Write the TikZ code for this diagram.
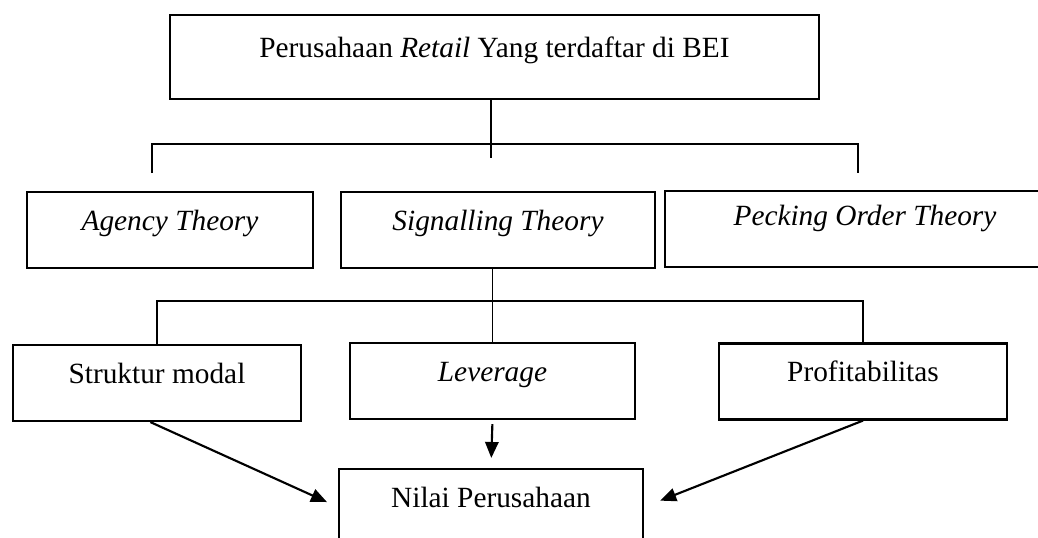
\documentclass[tikz,border=0pt]{standalone}
\usepackage{fontspec}
\setmainfont{Liberation Serif}
\usetikzlibrary{arrows.meta}

\begin{document}
\begin{tikzpicture}[x=0.75pt, y=-0.75pt,
		kotak/.style={shape=rectangle, draw=black, line width=1.6pt, inner sep=0pt, minimum height=57pt, text height=16pt, text depth=16pt, font=\fontsize{22}{26}\selectfont},
		garis/.style={line width=0.8pt},
		panah/.style={-{Triangle[length=12pt,width=10pt]}, line width=1.6pt}]
			\clip (0,0) rectangle (1038,537);
			
			\node[kotak, minimum width=486.75pt, minimum height=63pt] (retail) at (494.5,57) {Perusahaan \textit{Retail} Yang terdaftar di BEI};
			\node[kotak, minimum width=214.5pt] (agency) at (170,230) {\textit{Agency Theory}};
			\node[kotak, minimum width=235.5pt] (signalling) at (498,230) {\textit{Signalling Theory}};
			\node[kotak, minimum width=300pt, text depth=22pt] (pecking) at (865,229) {\textit{Pecking Order Theory}};
			\node[kotak, minimum width=216pt] (struktur) at (157,383) {Struktur modal};
			\node[kotak, minimum width=213.75pt] (leverage) at (492.5,381) {\textit{Leverage}};
			\node[kotak, minimum width=216pt] (profit) at (863,381.5) {Profitabilitas};
			\node[kotak, minimum width=228pt] (nilai) at (491,507) {Nilai Perusahaan};
			
			\coordinate (cabang1) at (491,158);
			\coordinate (kiri1) at (152,144);
			\coordinate (kanan1) at (858,144);
			\coordinate (ujungkiri1) at (152,173);
			\coordinate (ujungkanan1) at (858,173);
			\coordinate (kiri2) at (157,301);
			\coordinate (kanan2) at (863,301);
			
			\draw[garis] (retail.south -| cabang1) -- (cabang1);
			\draw[garis] (ujungkiri1) -- (kiri1) -- (kanan1) -- (ujungkanan1);
			\draw[garis] (signalling.south -| leverage.north) -- (leverage.north);
			\draw[garis] (struktur.north) -- (kiri2) -- (kanan2) -- (profit.north);
			
			\path [panah] ([xshift=-5pt]struktur.south) edge[shorten >=9pt] (nilai.west);
			\path [panah] (leverage.south) edge[shorten <=3pt, shorten >=7.5pt] (nilai.north);
			\path [panah] (profit.south) edge[shorten >=13pt] (nilai.east);
		\end{tikzpicture}
\end{document}
